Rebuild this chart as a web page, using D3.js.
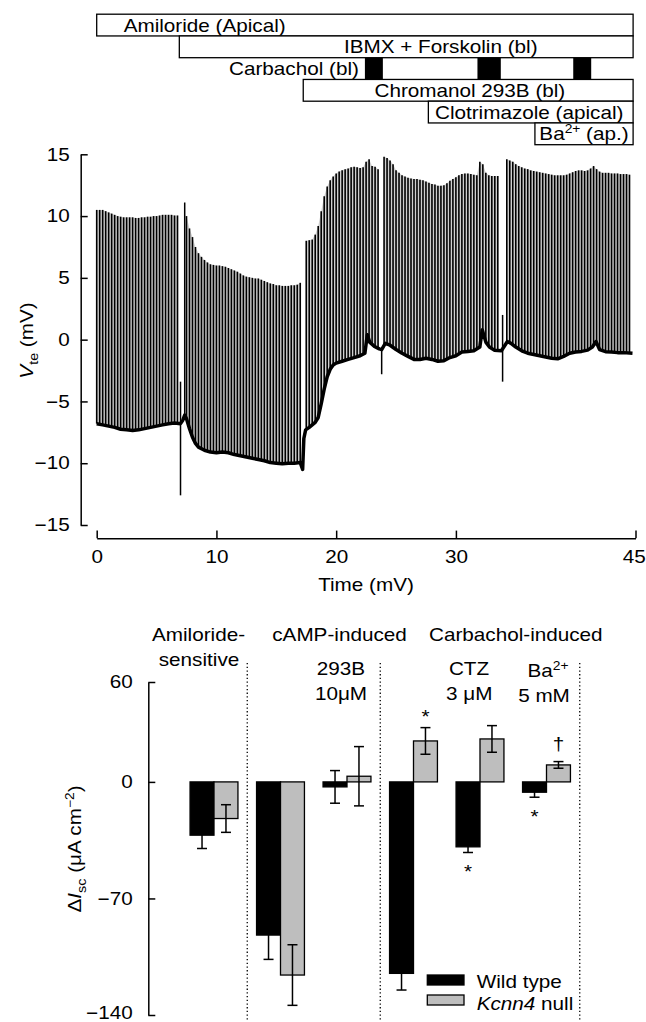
<!DOCTYPE html>
<html>
<head>
<meta charset="utf-8">
<script src="https://cdn.jsdelivr.net/npm/d3@7"></script>
<style>
  body { margin: 0; background: #fff; }
  text { font-family: "Liberation Sans", Arial, sans-serif; font-size: 18px; fill: #000; }
</style>
</head>
<body>
<div class="canva"></div>
<script>
// ---------- data: protocol bars ----------
const drugLabels = ['Amiloride (Apical)', 'IBMX + Forskolin (bl)', 'Chromanol 293B (bl)', 'Clotrimazole (apical)', 'Ba2+ (ap.)'];
const drugStart = [0, 6.9, 17.25, 27.7, 36.6];
const drugEnd = [44.8, 44.8, 44.8, 44.8, 44.8];
const carbStart = [22.4, 31.8, 39.8];
const carbEnd = [23.9, 33.75, 41.3];

// ---------- data: Vte trace ----------
const pulseStep = 0.25; // min between pulses
const pulseTop = [
  10.5,10.5,10.5,10.4,10.3,10.2,10.1,10.0,9.95,9.9,9.9,9.9,9.9,9.85,9.85,9.9,9.9,9.95,9.95,10.0,
  10.0,10.05,10.1,10.1,10.1,10.1,10.05,10.05,null,null,
  10.0,9.0,8.3,7.5,7.0,6.7,6.45,6.25,6.1,6.05,6.0,6.0,5.95,5.9,5.8,5.7,5.6,5.5,5.35,5.2,
  5.1,5.05,5.0,4.95,4.95,4.85,4.75,4.65,4.55,4.5,4.4,4.4,4.35,4.35,4.35,4.4,4.4,4.45,4.6,null,
  8.0,8.05,8.1,8.5,9.2,10.4,11.6,12.4,12.9,13.2,13.45,13.6,13.7,13.8,13.85,13.95,14.0,13.95,13.9,13.95,
  14.4,14.6,14.05,14.0,13.8,null,
  14.8,14.7,14.5,14.2,13.7,13.5,13.3,13.2,13.1,13.05,13.0,13.0,12.95,12.9,12.8,12.7,12.6,12.55,12.45,12.45,
  12.5,12.65,12.85,13.0,13.15,13.3,13.4,13.45,13.45,13.4,13.35,13.3,14.4,14.2,13.5,13.3,13.25,13.25,13.25,
  null,null,
  14.6,14.5,14.4,14.2,14.05,13.95,13.85,13.8,13.7,13.65,13.6,13.55,13.5,13.45,13.4,13.35,13.3,13.3,13.3,13.3,
  13.35,13.45,13.55,13.65,13.7,13.7,13.65,13.7,13.85,14.05,13.8,13.6,13.5,13.5,13.5,13.45,13.45,13.45,13.4,13.4,
  13.4,13.35
];
const baseTime = [0,0.5,1,1.5,2,2.5,3,3.5,4,4.5,5,5.5,6,6.5,7.0,7.2,7.35,7.5,7.75,8.0,8.25,8.5,9,9.5,10,10.5,11,11.5,12,12.5,
  13,13.5,14,14.5,15,15.5,16,16.5,17.0,17.2,17.3,17.45,17.75,18.0,18.25,18.5,18.75,19.0,19.25,19.5,19.75,20,20.5,21,21.5,22.0,
  22.4,22.6,22.8,23.2,23.6,23.8,24.1,24.5,25,25.5,26,26.5,27,27.5,28,28.5,29,29.5,30,30.5,31,31.5,32.0,32.2,32.5,32.8,33.2,
  33.8,34.3,34.6,35,35.5,36,36.5,37,37.5,38,38.5,39,39.5,40,40.5,41,41.4,41.7,42.0,42.5,43,43.5,44,44.75];
const baseMV = [-6.8,-6.9,-7.0,-7.1,-7.25,-7.3,-7.35,-7.3,-7.2,-7.1,-7.0,-6.9,-6.8,-6.75,-6.8,-6.5,-6.1,-6.4,-7.2,-7.9,-8.4,-8.7,-8.95,-9.1,-9.15,-9.1,-9.15,-9.3,-9.4,-9.5,
  -9.6,-9.7,-9.8,-9.95,-10.0,-10.05,-10.0,-10.0,-9.95,-10.5,-8.0,-7.3,-7.1,-6.9,-6.7,-6.3,-5.2,-4.0,-3.0,-2.4,-2.05,-1.9,-1.75,-1.6,-1.45,-1.3,
  -1.1,0.4,-0.2,-0.55,-0.75,-0.8,-0.3,-0.45,-0.8,-1.1,-1.35,-1.6,-1.6,-1.5,-1.6,-1.75,-1.7,-1.45,-1.3,-1.0,-0.95,-0.9,-0.6,0.8,-0.2,-0.6,-0.85,
  -0.9,-0.15,-0.3,-0.6,-0.9,-1.1,-1.2,-1.3,-1.4,-1.5,-1.55,-1.35,-1.1,-1.0,-0.95,-0.85,-0.6,-0.15,-0.8,-0.97,-1.0,-1.05,-1.05,-1.1];
const spikeTime = [7.0, 7.35, 23.8, 33.9];
const spikeLow = [-12.6, -6.5, -2.8, -3.4];
const spikeHigh = [-3.4, 11.1, -0.8, 2.0];
const vTicks = [-15, -10, -5, 0, 5, 10, 15];
const timeTicks = [0, 10, 20, 30, 45];

// ---------- data: Isc bars ----------
const conditions = ['Amiloride', 'cAMP', '293B', 'Carbachol', 'CTZ', 'Ba'];
const wtMean = [-32, -92, -3, -115, -39, -6.2];
const wtSE = [8, 14.6, 9.8, 10, 3.4, 3];
const nullMean = [-22, -116, 3.4, 24.6, 25.8, 10.2];
const nullSE = [8.3, 18.2, 17.8, 8, 8, 2];
const wtMarks = ['', '', '', '', '*', '*'];
const nullMarks = ['', '', '', '*', '', '\u2020'];
const iscTicks = [60, 0, -70, -140];

// ---------- setup ----------
const SX = 1.15; // type in the figure is a bit wider than Arial
const svg = d3.select('.canva').append('svg')
  .attr('width', 646).attr('height', 1022)
  .style('display', 'block');

function label(g, x, y, anchor, extra) {
  return g.append('text')
    .attr('transform', `translate(${x},${y})${extra || ''} scale(${SX},1)`)
    .attr('text-anchor', anchor || 'start');
}

const xT = d3.scaleLinear().domain([0, 45]).range([96.7, 635.5]);
const yV = d3.scaleLinear().domain([-15, 15]).range([525, 154.3]);

// ---------- protocol boxes ----------
const rowTop = 14.2, rowH = 21.75;
const drugRow = [0, 1, 3, 4, 5];
const drugTextT = [2.25, 20.65, 23.2, 28.25, 36.97];
const proto = svg.append('g');

drugLabels.forEach((name, i) => {
  proto.append('rect')
    .attr('x', xT(drugStart[i])).attr('y', rowTop + drugRow[i] * rowH)
    .attr('width', xT(drugEnd[i]) - xT(drugStart[i])).attr('height', rowH)
    .attr('fill', '#fff').attr('stroke', '#000').attr('stroke-width', 1.3);
  const t = label(proto, xT(drugTextT[i]), rowTop + (drugRow[i] + 1) * rowH - 4.3);
  if (name.startsWith('Ba2+')) {
    t.append('tspan').text('Ba');
    t.append('tspan').attr('dy', -7).style('font-size', '12px').text('2+');
    t.append('tspan').attr('dy', 7).text(' (ap.)');
  } else {
    t.text(name);
  }
});
carbStart.forEach((s, i) => {
  proto.append('rect')
    .attr('x', xT(s)).attr('y', rowTop + 2 * rowH)
    .attr('width', xT(carbEnd[i]) - xT(s)).attr('height', rowH)
    .attr('fill', '#000');
});
label(proto, xT(carbStart[0]) - 6, rowTop + 3 * rowH - 4.3, 'end').text('Carbachol (bl)');

// ---------- trace ----------
const trace = svg.append('g');
const bis = d3.bisector(d => d).left;
function baseAt(t) {
  const i = bis(baseTime, t);
  if (i <= 0) return baseMV[0];
  if (i >= baseTime.length) return baseMV[baseMV.length - 1];
  const t0 = baseTime[i - 1], t1 = baseTime[i];
  return baseMV[i - 1] + (baseMV[i] - baseMV[i - 1]) * (t - t0) / (t1 - t0);
}
const pulses = pulseTop.map((v, i) => ({ t: i * pulseStep, top: v }));

trace.append('path')
  .datum(pulses)
  .attr('fill', '#cfcfcf')
  .attr('d', d3.area()
    .defined(d => d.top != null)
    .x(d => xT(d.t))
    .y0(d => yV(baseAt(d.t)))
    .y1(d => yV(d.top)));

trace.selectAll('line.pulse')
  .data(pulses.filter(d => d.top != null))
  .join('line')
  .attr('class', 'pulse')
  .attr('x1', d => xT(d.t)).attr('x2', d => xT(d.t))
  .attr('y1', d => yV(d.top)).attr('y2', d => yV(baseAt(d.t)))
  .attr('stroke', '#000').attr('stroke-width', 1.6);

trace.selectAll('line.spike')
  .data(spikeTime)
  .join('line')
  .attr('class', 'spike')
  .attr('x1', d => xT(d)).attr('x2', d => xT(d))
  .attr('y1', (d, i) => yV(spikeHigh[i])).attr('y2', (d, i) => yV(spikeLow[i]))
  .attr('stroke', '#000').attr('stroke-width', 1.5);

trace.append('path')
  .datum(baseTime.map((t, i) => [t, baseMV[i]]))
  .attr('fill', 'none').attr('stroke', '#000').attr('stroke-width', 3.5)
  .attr('stroke-linejoin', 'round')
  .attr('d', d3.line().x(d => xT(d[0])).y(d => yV(d[1])));

// axes
const yAxV = svg.append('g').attr('transform', 'translate(80.7,0)')
  .call(d3.axisLeft(yV).tickValues(vTicks).tickSizeInner(-7).tickSizeOuter(0).tickPadding(9.6));
const xAxT = svg.append('g').attr('transform', 'translate(0,538.3)')
  .call(d3.axisBottom(xT).tickValues(timeTicks).tickSizeInner(-7.7).tickSizeOuter(0).tickPadding(11.6));

label(svg, 366, 591, 'middle').text('Time (mV)');
const vl = label(svg, 33, 340.5, 'middle', ' rotate(-90)');
vl.append('tspan').style('font-style', 'italic').text('V');
vl.append('tspan').attr('dy', 5).style('font-size', '12.5px').text('te');
vl.append('tspan').attr('dy', -5).text(' (mV)');

// ---------- Isc bar chart ----------
const xb = d3.scaleBand().domain(conditions).range([180.75, 579.75]);
const yb = d3.scaleLinear().domain([-140, 60]).range([1015, 682]);
const bw = xb.bandwidth() * 0.36;
const bars = svg.append('g');
const series = [
  { mean: wtMean, se: wtSE, marks: wtMarks, fill: '#000', off: -1 },
  { mean: nullMean, se: nullSE, marks: nullMarks, fill: '#bebebe', off: 0 }
];

series.forEach(s => {
  conditions.forEach((c, i) => {
    const x0 = xb(c) + xb.bandwidth() / 2 + s.off * bw;
    const v = s.mean[i];
    bars.append('rect')
      .attr('x', x0).attr('width', bw)
      .attr('y', yb(Math.max(0, v))).attr('height', Math.abs(yb(v) - yb(0)))
      .attr('fill', s.fill).attr('stroke', '#000').attr('stroke-width', 1.3);
    const cx = x0 + bw / 2;
    const lo = yb(v - s.se[i]), hi = yb(v + s.se[i]);
    bars.append('line').attr('x1', cx).attr('x2', cx).attr('y1', lo).attr('y2', hi)
      .attr('stroke', '#000').attr('stroke-width', 1.5);
    [lo, hi].forEach(y => bars.append('line')
      .attr('x1', cx - 5).attr('x2', cx + 5).attr('y1', y).attr('y2', y)
      .attr('stroke', '#000').attr('stroke-width', 1.5));
    const m = s.marks[i];
    if (m) {
      const y = v < 0 ? lo + 25.6 : hi - (m === '*' ? 5 : 12);
      label(bars, cx, y, 'middle').text(m);
    }
  });
});

// dotted separators
[xb(conditions[1]), xb(conditions[3]), xb.range()[1]].forEach(x => {
  bars.append('line').attr('x1', x).attr('x2', x).attr('y1', 663).attr('y2', 1022)
    .attr('stroke', '#000').attr('stroke-width', 1.3).attr('stroke-dasharray', '1.3,2.4');
});

const yAxB = svg.append('g').attr('transform', 'translate(148.3,0)')
  .call(d3.axisLeft(yb).tickValues(iscTicks).tickSizeInner(-7).tickSizeOuter(0).tickPadding(13.6));

[yAxV, xAxT, yAxB].forEach(ax => {
  ax.select('.domain').attr('stroke-width', 1.5);
  ax.selectAll('.tick line').attr('stroke-width', 1.5);
  ax.selectAll('.tick text')
    .style('font-size', '18px').style('font-family', '"Liberation Sans", Arial, sans-serif')
    .attr('transform', `scale(${SX},1)`);
});
// keep the last time label inside the picture
xAxT.selectAll('.tick text').filter(d => d === 45).attr('x', -1.5);
yAxB.selectAll('.tick text').filter(d => d === -140).attr('dy', '0.2em');

// headers
const hd = svg.append('g');
label(hd, 198.5, 641, 'middle').text('Amiloride-');
label(hd, 199, 666, 'middle').text('sensitive');
label(hd, 339.5, 641, 'middle').text('cAMP-induced');
label(hd, 515.8, 641, 'middle').text('Carbachol-induced');
label(hd, 341, 675, 'middle').text('293B');
label(hd, 341, 700, 'middle').text('10\u03bcM');
label(hd, 469, 675, 'middle').text('CTZ');
label(hd, 469.3, 700, 'middle').text('3 \u03bcM');
const ba = label(hd, 548, 677, 'middle');
ba.append('tspan').text('Ba');
ba.append('tspan').attr('dy', -7).style('font-size', '12px').text('2+');
label(hd, 544, 702, 'middle').text('5 mM');

// y label
const il = label(svg, 81, 849, 'middle', ' rotate(-90)');
il.append('tspan').text('\u0394');
il.append('tspan').style('font-style', 'italic').text('I');
il.append('tspan').attr('dy', 5).style('font-size', '12.5px').text('sc');
il.append('tspan').attr('dy', -5).text(' (\u03bcA cm');
il.append('tspan').attr('dy', -7).style('font-size', '12px').text('\u22122');
il.append('tspan').attr('dy', 7).text(')');

// legend
const lg = svg.append('g');
lg.append('rect').attr('x', 427.3).attr('y', 975).attr('width', 36.7).attr('height', 10)
  .attr('fill', '#000').attr('stroke', '#000').attr('stroke-width', 1.3);
lg.append('rect').attr('x', 427.3).attr('y', 995).attr('width', 36.7).attr('height', 10)
  .attr('fill', '#bebebe').attr('stroke', '#000').attr('stroke-width', 1.3);
label(lg, 476.7, 988).text('Wild type');
const kn = label(lg, 476.7, 1009.5);
kn.append('tspan').style('font-style', 'italic').text('Kcnn4');
kn.append('tspan').text(' null');
</script>
</body>
</html>
